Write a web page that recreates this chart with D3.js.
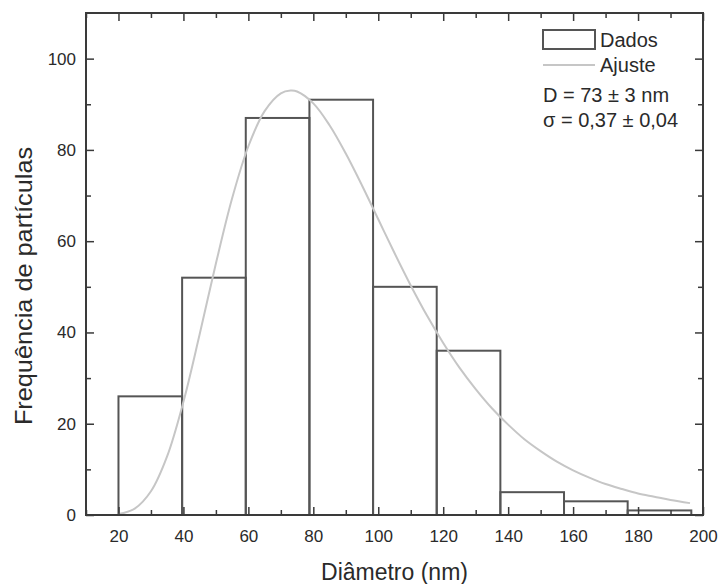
<!DOCTYPE html>
<html>
<head>
<meta charset="utf-8">
<script src="https://cdn.jsdelivr.net/npm/d3@7"></script>
<style>
  body { margin: 0; background: #fff; }
  svg { display: block; font-family: "Liberation Sans", Arial, sans-serif; }
</style>
</head>
<body>
<svg width="718" height="584"></svg>
<script>
// histogram bins (nm) and counts
const binEdges = [20, 39.6, 59.2, 78.8, 98.4, 118, 137.6, 157.2, 176.8, 196.4];
const counts = [26, 52, 87, 91, 50, 36, 5, 3, 1];

// lognormal fit
const fitX = [20, 25, 30, 35, 40, 45, 50, 55, 60, 65, 70, 73, 75, 80, 85, 90, 95, 100, 105, 110,
              115, 120, 125, 130, 135, 140, 145, 150, 155, 160, 165, 170, 175, 180, 185, 190, 196];
const fitY = [0.2, 1.4, 5.2, 12.9, 24.8, 39.6, 55.1, 69.4, 80.8, 88.5, 92.4, 93, 92.8, 90.2, 85.4, 79.2, 72.2, 64.8, 57.4, 50.3,
              43.7, 37.7, 32.3, 27.6, 23.4, 19.8, 16.6, 14.0, 11.7, 9.8, 8.2, 6.8, 5.7, 4.7, 4.0, 3.3, 2.6];

const xTicks = [20, 40, 60, 80, 100, 120, 140, 160, 180, 200];
const xMinor = [10, 30, 50, 70, 90, 110, 130, 150, 170, 190];
const yTicks = [0, 20, 40, 60, 80, 100];
const yMinor = [10, 30, 50, 70, 90];

const legendLabels = ["Dados", "Ajuste"];
const fitText = ["D = 73 \u00b1 3 nm", "\u03c3 = 0,37 \u00b1 0,04"];

const svg = d3.select("svg");
const pLeft = 86, pRight = 703, pTop = 13, pBottom = 515;

const x = d3.scaleLinear().domain([10, 200]).range([pLeft, pRight]);
const y = d3.scaleLinear().domain([0, 110]).range([pBottom, pTop]);

const frameColor = "#3a3a3a";
const barColor = "#555";
const fitColor = "#c6c6c6";
const textColor = "#2a2a2a";

//bars
svg.append("g")
    .selectAll("rect")
    .data(counts)
    .join("rect")
    .attr("x", (d, i) => x(binEdges[i]))
    .attr("y", d => y(d))
    .attr("width", (d, i) => x(binEdges[i + 1]) - x(binEdges[i]))
    .attr("height", d => y(0) - y(d))
    .attr("fill", "none")
    .attr("stroke", barColor)
    .attr("stroke-width", 2);

//fit curve
const line = d3.line()
    .x((d, i) => x(fitX[i]))
    .y(d => y(d))
    .curve(d3.curveCatmullRom);

svg.append("path")
    .datum(fitY)
    .attr("d", line)
    .attr("fill", "none")
    .attr("stroke", fitColor)
    .attr("stroke-width", 2);

//axes, ticks inside on all four sides
function styleAxis(g) {
    g.select(".domain").remove();
    g.selectAll(".tick line").attr("stroke", frameColor).attr("stroke-width", 1.5);
    g.selectAll("text")
        .attr("fill", textColor)
        .style("font-size", "17px");
}

svg.append("g")
    .attr("transform", `translate(0,${pBottom})`)
    .call(d3.axisBottom(x).tickValues(xTicks).tickSize(-8).tickPadding(15).tickFormat(d3.format("d")))
    .call(styleAxis);
svg.append("g")
    .attr("transform", `translate(0,${pBottom})`)
    .call(d3.axisBottom(x).tickValues(xMinor).tickSize(-5).tickFormat(""))
    .call(styleAxis);
svg.append("g")
    .attr("transform", `translate(0,${pTop})`)
    .call(d3.axisTop(x).tickValues(xTicks).tickSize(-8).tickFormat(""))
    .call(styleAxis);
svg.append("g")
    .attr("transform", `translate(0,${pTop})`)
    .call(d3.axisTop(x).tickValues(xMinor).tickSize(-5).tickFormat(""))
    .call(styleAxis);

svg.append("g")
    .attr("transform", `translate(${pLeft},0)`)
    .call(d3.axisLeft(y).tickValues(yTicks).tickSize(-8).tickPadding(10).tickFormat(d3.format("d")))
    .call(styleAxis);
svg.append("g")
    .attr("transform", `translate(${pLeft},0)`)
    .call(d3.axisLeft(y).tickValues(yMinor).tickSize(-5).tickFormat(""))
    .call(styleAxis);
svg.append("g")
    .attr("transform", `translate(${pRight},0)`)
    .call(d3.axisRight(y).tickValues(yTicks).tickSize(-8).tickFormat(""))
    .call(styleAxis);
svg.append("g")
    .attr("transform", `translate(${pRight},0)`)
    .call(d3.axisRight(y).tickValues(yMinor).tickSize(-5).tickFormat(""))
    .call(styleAxis);

//frame
svg.append("rect")
    .attr("x", pLeft)
    .attr("y", pTop)
    .attr("width", pRight - pLeft)
    .attr("height", pBottom - pTop)
    .attr("fill", "none")
    .attr("stroke", frameColor)
    .attr("stroke-width", 2);

//axis titles
svg.append("text")
    .attr("x", (pLeft + pRight) / 2)
    .attr("y", 580)
    .attr("text-anchor", "middle")
    .attr("fill", textColor)
    .style("font-size", "23px")
    .text("Di\u00e2metro (nm)");

// the original is a bit stretched vertically, so the rotated title runs longer
svg.append("text")
    .attr("transform", "translate(32,286) rotate(-90) scale(1.1,1)")
    .attr("text-anchor", "middle")
    .attr("fill", textColor)
    .style("font-size", "23px")
    .text("Frequ\u00eancia de part\u00edculas");

//legend
const lg = svg.append("g");
lg.append("rect")
    .attr("x", 543).attr("y", 30)
    .attr("width", 52).attr("height", 19)
    .attr("fill", "none")
    .attr("stroke", barColor)
    .attr("stroke-width", 2);
lg.append("line")
    .attr("x1", 543).attr("x2", 595)
    .attr("y1", 65).attr("y2", 65)
    .attr("stroke", fitColor)
    .attr("stroke-width", 2);
lg.selectAll("text.lab")
    .data(legendLabels)
    .join("text")
    .attr("class", "lab")
    .attr("x", 600)
    .attr("y", (d, i) => 47 + i * 25)
    .attr("fill", textColor)
    .style("font-size", "20px")
    .text(d => d);
lg.selectAll("text.fit")
    .data(fitText)
    .join("text")
    .attr("class", "fit")
    .attr("x", 543)
    .attr("y", (d, i) => 102 + i * 25)
    .attr("fill", textColor)
    .style("font-size", "20px")
    .text(d => d);
</script>
</body>
</html>
